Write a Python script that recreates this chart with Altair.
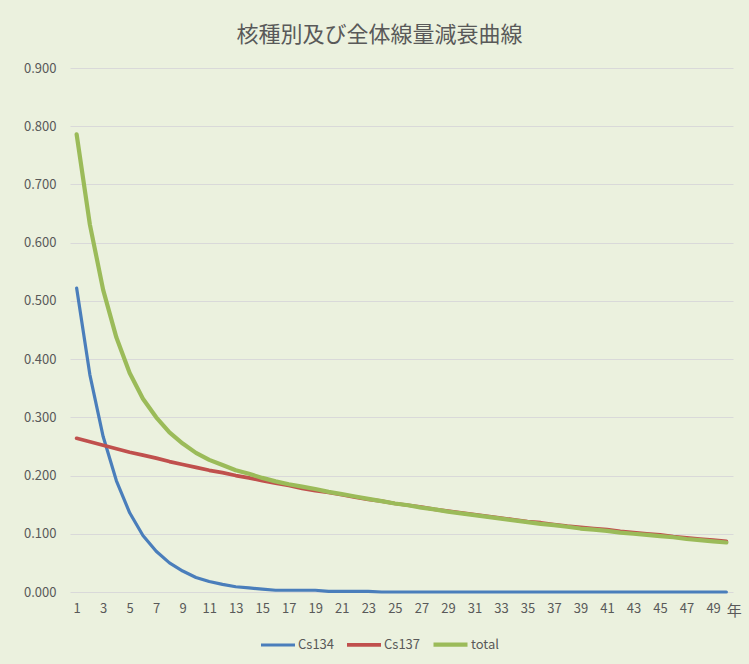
import altair as alt
import pandas as pd

# Years after the reference date (category axis 1..50)
years = list(range(1, 51))

# Dose-rate contributions per nuclide and combined
cs134 = [0.522, 0.373, 0.267, 0.191, 0.136, 0.097, 0.070, 0.050, 0.036, 0.025,
         0.018, 0.013, 0.009, 0.007, 0.005, 0.003, 0.003, 0.003, 0.003, 0.001,
         0.001, 0.001, 0.001, 0.000, 0.000, 0.000, 0.000, 0.000, 0.000, 0.000,
         0.000, 0.000, 0.000, 0.000, 0.000, 0.000, 0.000, 0.000, 0.000, 0.000,
         0.000, 0.000, 0.000, 0.000, 0.000, 0.000, 0.000, 0.000, 0.000, 0.000]
cs137 = [0.264, 0.258, 0.252, 0.246, 0.240, 0.235, 0.230, 0.224, 0.219, 0.214,
         0.209, 0.205, 0.200, 0.196, 0.191, 0.187, 0.183, 0.178, 0.174, 0.171,
         0.167, 0.163, 0.159, 0.156, 0.152, 0.149, 0.146, 0.142, 0.139, 0.136,
         0.133, 0.130, 0.127, 0.124, 0.121, 0.119, 0.116, 0.113, 0.111, 0.109,
         0.107, 0.104, 0.102, 0.100, 0.098, 0.095, 0.093, 0.091, 0.089, 0.087]
total = [0.786, 0.631, 0.519, 0.437, 0.376, 0.332, 0.300, 0.274, 0.255, 0.239,
         0.227, 0.218, 0.209, 0.203, 0.196, 0.190, 0.185, 0.181, 0.177, 0.172,
         0.168, 0.164, 0.160, 0.156, 0.152, 0.149, 0.145, 0.142, 0.138, 0.135,
         0.132, 0.129, 0.126, 0.123, 0.120, 0.117, 0.115, 0.112, 0.109, 0.107,
         0.105, 0.102, 0.100, 0.098, 0.096, 0.094, 0.091, 0.089, 0.087, 0.085]

series_names = ["Cs134", "Cs137", "total"]
series_colors = ["#4A7EBB", "#C0504D", "#9BBB59"]
series_widths = [3.2, 4.2, 3.4]

x_ticks = list(range(1, 50, 2))
y_ticks = [round(0.1 * i, 1) for i in range(10)]

rows = []
for name, vals in zip(series_names, [cs134, cs137, total]):
    for yr, v in zip(years, vals):
        rows.append({"year": yr, "value": v, "series": name})
df = pd.DataFrame(rows)

FONT = "Noto Sans CJK JP"
TEXT = "#595959"

x_enc = alt.X(
    "year:Q",
    scale=alt.Scale(domain=[0.5, 50.5], nice=False, zero=False),
    axis=alt.Axis(values=x_ticks, title=None, grid=False, domain=False, ticks=False,
                  labelPadding=10, labelFontSize=13, labelColor=TEXT, labelFont=FONT,
                  labelFlush=False, labelOverlap=False),
)
y_enc = alt.Y(
    "value:Q",
    scale=alt.Scale(domain=[0, 0.9], nice=False),
    axis=alt.Axis(values=y_ticks, format=".3f", title=None, domain=False, ticks=False,
                  gridColor="#D9D9D9", gridWidth=1.2, labelPadding=14,
                  labelFontSize=13, labelColor=TEXT, labelFont=FONT),
)

lines = alt.Chart(df).mark_line(strokeCap="round", strokeJoin="round").encode(
    x=x_enc,
    y=y_enc,
    color=alt.Color(
        "series:N",
        scale=alt.Scale(domain=series_names, range=series_colors),
        legend=alt.Legend(
            title=None, orient="none", legendX=189, legendY=557, direction="horizontal",
            symbolType="stroke", symbolSize=1156, symbolStrokeWidth=3.5,
            labelFontSize=13, labelColor=TEXT, labelFont=FONT, labelOffset=1,
            columnPadding=4, padding=0,
        ),
    ),
    strokeWidth=alt.StrokeWidth(
        "series:N", scale=alt.Scale(domain=series_names, range=series_widths), legend=None
    ),
)

# Unit label at the end of the category axis (same axis settings, so they merge)
unit = alt.Chart(pd.DataFrame({"year": [50], "value": [0.0]})).mark_text(
    text="年", font=FONT, fontSize=15, color=TEXT, dx=8, dy=19
).encode(x=x_enc, y=y_enc)

chart = alt.layer(lines, unit).properties(
    width=663,
    height=524,
    padding={"left": 70, "top": 68, "right": 16, "bottom": 72},
    autosize=alt.AutoSizeParams(type="none"),
    background="#EBF1DE",
    title=alt.TitleParams(
        "核種別及び全体線量減衰曲線", font=FONT, fontSize=22, fontWeight="normal",
        color=TEXT, anchor="middle", dx=-22, offset=15,
    ),
).configure_view(stroke=None)

chart.save("out.html", embed_options={"renderer": "svg", "actions": False})
